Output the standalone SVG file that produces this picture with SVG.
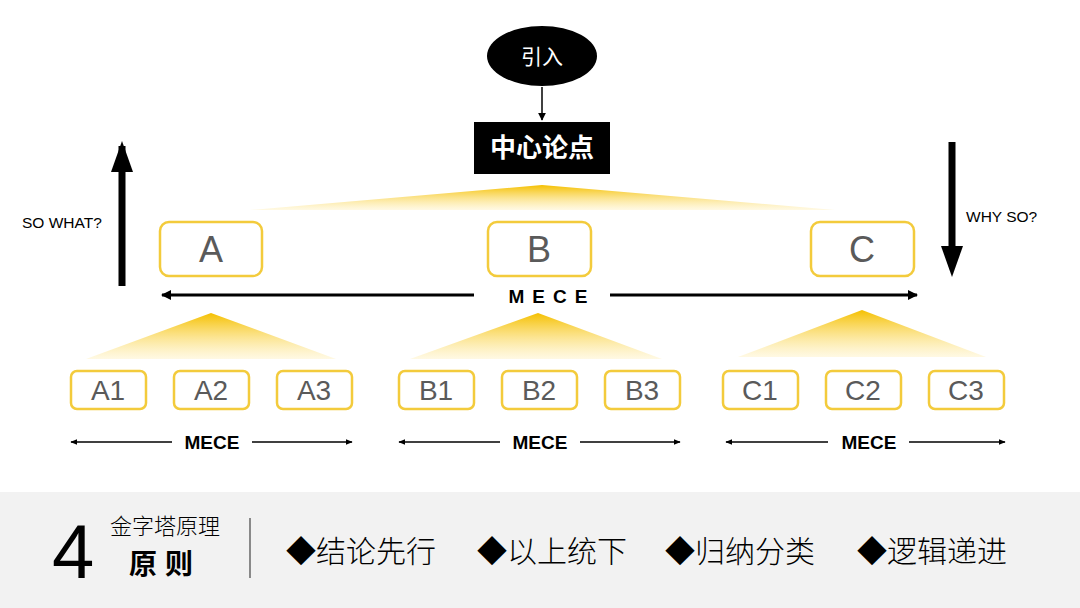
<svg xmlns="http://www.w3.org/2000/svg" width="1080" height="608" viewBox="0 0 1080 608">
<defs>
<linearGradient id="tri" x1="0" y1="0" x2="0" y2="1">
<stop offset="0" stop-color="#F5C000"/>
<stop offset="1" stop-color="#FFF3C8" stop-opacity="0.5"/>
</linearGradient>
<marker id="big" viewBox="0 0 10 10" refX="9" refY="5" markerWidth="10" markerHeight="10" markerUnits="userSpaceOnUse" orient="auto-start-reverse">
<path d="M0,0 L10,5 L0,10 Z" fill="#000"/>
</marker>
<marker id="sm" viewBox="0 0 10 10" refX="9" refY="5" markerWidth="7" markerHeight="7" markerUnits="userSpaceOnUse" orient="auto-start-reverse">
<path d="M0,1 L10,5 L0,9 Z" fill="#000"/>
</marker>
<marker id="th" viewBox="0 0 10 10" refX="9" refY="5" markerWidth="8" markerHeight="8" markerUnits="userSpaceOnUse" orient="auto">
<path d="M0,0 L10,5 L0,10 Z" fill="#000"/>
</marker>
</defs>
<style>
.box{fill:#fff;stroke:#F3CB3C;stroke-width:2.5}
.lbl{font-family:"Liberation Sans",Arial,sans-serif;fill:#5A5A5A;text-anchor:middle}
.big{font-size:36px}
.small{font-size:28px}
.mece{font-family:"Liberation Sans",Arial,sans-serif;font-weight:bold;font-size:19px;text-anchor:middle;fill:#000}
.note{font-family:"Liberation Sans",Arial,sans-serif;font-size:15.5px;fill:#000}
.cjk{font-family:"Noto Sans CJK SC",sans-serif}
</style>
<rect width="1080" height="608" fill="#fff"/>

<g id="triangles">
<polygon points="542,185 250,210 835,210" fill="url(#tri)"/>
<polygon points="211,313 86,359 336,359" fill="url(#tri)"/>
<polygon points="538,313 410,359 662,359" fill="url(#tri)"/>
<polygon points="862,310 738,357 986,357" fill="url(#tri)"/>
</g>

<g id="connectors" stroke="#000" fill="none">
<line x1="542" y1="87" x2="542" y2="120" stroke-width="1.5" marker-end="url(#th)"/>
<line x1="122" y1="286" x2="122" y2="146" stroke-width="7"/>
<polygon points="122,141 111,172 133,172" fill="#000" stroke="none"/>
<line x1="952" y1="142" x2="952" y2="250" stroke-width="7"/>
<polygon points="952,277 941,246 963,246" fill="#000" stroke="none"/>
<line x1="162" y1="295" x2="474" y2="295" stroke-width="3" marker-start="url(#big)"/>
<line x1="610" y1="295" x2="917" y2="295" stroke-width="3" marker-end="url(#big)"/>
<line x1="71" y1="442" x2="172" y2="442" stroke-width="1.5" marker-start="url(#sm)"/>
<line x1="252" y1="442" x2="352" y2="442" stroke-width="1.5" marker-end="url(#sm)"/>
<line x1="399" y1="442" x2="500" y2="442" stroke-width="1.5" marker-start="url(#sm)"/>
<line x1="580" y1="442" x2="680" y2="442" stroke-width="1.5" marker-end="url(#sm)"/>
<line x1="726" y1="442" x2="828" y2="442" stroke-width="1.5" marker-start="url(#sm)"/>
<line x1="909" y1="442" x2="1005" y2="442" stroke-width="1.5" marker-end="url(#sm)"/>
</g>

<g id="intro">
<ellipse cx="542" cy="56" rx="55" ry="30" fill="#000"/>
<text x="542" y="64" class="cjk" font-size="21" fill="#fff" text-anchor="middle">引入</text>
</g>
<g id="center">
<rect x="474" y="122" width="136" height="52" fill="#000"/>
<text x="542" y="157" class="cjk" font-size="26" font-weight="bold" fill="#fff" text-anchor="middle">中心论点</text>
</g>

<text x="22" y="228" class="note">SO WHAT?</text>
<text x="966" y="222" class="note">WHY SO?</text>

<g id="nodeA"><rect class="box" x="160" y="222" width="102" height="54" rx="9"/><text class="lbl big" x="211" y="262">A</text></g>
<g id="nodeB"><rect class="box" x="488" y="222" width="103" height="54" rx="9"/><text class="lbl big" x="539" y="262">B</text></g>
<g id="nodeC"><rect class="box" x="811" y="222" width="103" height="54" rx="9"/><text class="lbl big" x="862" y="262">C</text></g>

<text x="552" y="303" class="mece" font-size="20" letter-spacing="8">MECE</text>

<g id="nodeA1"><rect class="box" x="71" y="371" width="75" height="38" rx="6"/><text class="lbl small" x="108" y="400">A1</text></g>
<g id="nodeA2"><rect class="box" x="174" y="371" width="75" height="38" rx="6"/><text class="lbl small" x="211" y="400">A2</text></g>
<g id="nodeA3"><rect class="box" x="277" y="371" width="75" height="38" rx="6"/><text class="lbl small" x="314" y="400">A3</text></g>
<g id="nodeB1"><rect class="box" x="399" y="371" width="75" height="38" rx="6"/><text class="lbl small" x="436" y="400">B1</text></g>
<g id="nodeB2"><rect class="box" x="502" y="371" width="75" height="38" rx="6"/><text class="lbl small" x="539" y="400">B2</text></g>
<g id="nodeB3"><rect class="box" x="605" y="371" width="75" height="38" rx="6"/><text class="lbl small" x="642" y="400">B3</text></g>
<g id="nodeC1"><rect class="box" x="723" y="371" width="75" height="38" rx="6"/><text class="lbl small" x="760" y="400">C1</text></g>
<g id="nodeC2"><rect class="box" x="826" y="371" width="75" height="38" rx="6"/><text class="lbl small" x="863" y="400">C2</text></g>
<g id="nodeC3"><rect class="box" x="929" y="371" width="75" height="38" rx="6"/><text class="lbl small" x="966" y="400">C3</text></g>

<text x="212" y="449" class="mece">MECE</text>
<text x="540" y="449" class="mece">MECE</text>
<text x="869" y="449" class="mece">MECE</text>

<g id="footer">
<rect x="0" y="492" width="1080" height="116" fill="#F2F2F2"/>
<text x="52" y="578" font-family="Liberation Sans,Arial,sans-serif" font-size="76" fill="#000">4</text>
<text x="110" y="534" class="cjk" font-size="22" font-weight="300" fill="#000">金字塔原理</text>
<text x="129" y="574" class="cjk" font-size="28" font-weight="bold" fill="#000" letter-spacing="8">原则</text>
<line x1="250" y1="518" x2="250" y2="578" stroke="#444" stroke-width="1.2"/>
<g class="cjk" font-size="30" font-weight="300" fill="#000">
<text x="286" y="562">◆结论先行</text>
<text x="477" y="562">◆以上统下</text>
<text x="665" y="562">◆归纳分类</text>
<text x="857" y="562">◆逻辑递进</text>
</g>
</g>
</svg>
